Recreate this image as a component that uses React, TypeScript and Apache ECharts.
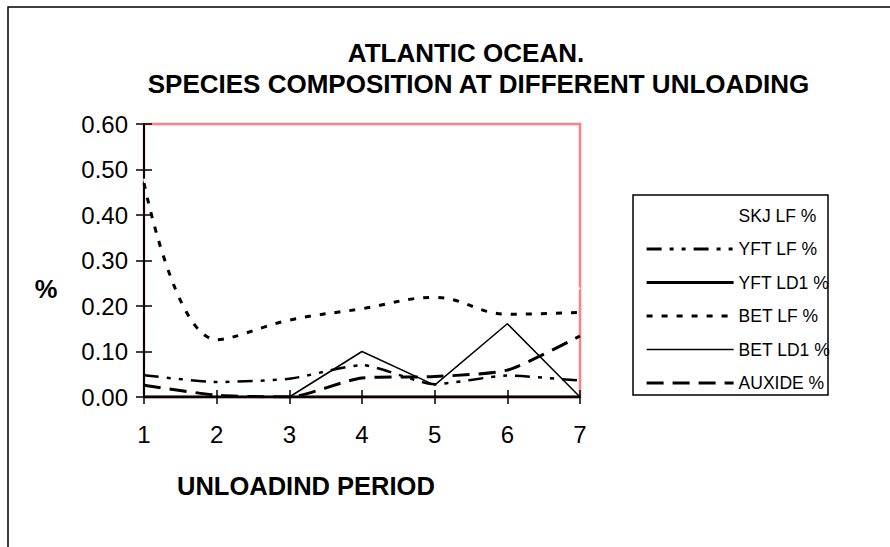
import React, { useEffect, useRef } from 'react';
import * as echarts from 'echarts';

const FONT = "'Liberation Sans', Arial, Helvetica, sans-serif";

const periods = ['1', '2', '3', '4', '5', '6', '7'];
const seriesNames = ['SKJ LF %', 'YFT LF %', 'YFT LD1 %', 'BET LF %', 'BET LD1 %', 'AUXIDE %'];
const skjLF = [0.48, 0.125, 0.16, 0.2, 0.225, 0.18, 0.24];
const yftLF = [0.048, 0.033, 0.04, 0.07, 0.028, 0.047, 0.036];
const yftLD1 = [0, 0, 0, 0, 0, 0, 0];
const betLF = [0.47, 0.126, 0.169, 0.194, 0.219, 0.182, 0.186];
const betLD1 = [0, 0, 0, 0.1, 0.026, 0.161, 0];
const auxide = [0.026, 0.004, 0, 0.042, 0.045, 0.059, 0.134];
const titleLines = ['ATLANTIC OCEAN.', 'SPECIES COMPOSITION AT DIFFERENT UNLOADING'];
const xAxisTitle = 'UNLOADIND PERIOD';
const yAxisTitle = '%';

export default function App() {
  const ref = useRef<HTMLDivElement>(null);

  useEffect(() => {
    const chart = echarts.init(ref.current!, null, { renderer: 'svg' });

    const titleStyle = {
      fontSize: 26,
      fontWeight: 'bold' as const,
      fontFamily: FONT,
      color: '#000',
      lineHeight: 26,
    };

    const styles: any[] = [
      { color: '#fff', width: 2, type: 'solid', smooth: 0.4 },
      { color: '#000', width: 2.5, type: [15, 8, 4, 8, 4, 8], smooth: 0.2 },
      { color: '#000', width: 3, type: 'solid', smooth: false },
      { color: '#000', width: 3, type: [6, 9], smooth: 0.4 },
      { color: '#000', width: 1.5, type: 'solid', smooth: false },
      { color: '#000', width: 3, type: [17, 9], smooth: 0.2 },
    ];
    const legendWidths = [2, 3, 3, 3, 1.5, 3.2];
    const values = [skjLF, yftLF, yftLD1, betLF, betLD1, auxide];

    const option: any = {
      animation: false,
      backgroundColor: '#fff',
      title: [
        { text: titleLines[0], left: 466, top: 40, textAlign: 'center', padding: 0, textStyle: titleStyle },
        { text: titleLines[1], left: 478.5, top: 71, textAlign: 'center', padding: 0, textStyle: titleStyle },
      ],
      grid: {
        left: 144,
        right: 310,
        top: 124,
        bottom: 150,
        show: true,
        borderColor: '#ff8080',
        borderWidth: 2.5,
        backgroundColor: '#fff',
        containLabel: false,
      },
      legend: {
        orient: 'vertical',
        left: 645,
        top: 206.5,
        padding: 0,
        itemWidth: 87,
        itemHeight: 18,
        itemGap: 15.5,
        selectedMode: false,
        data: seriesNames.map((name, i) => ({
          name,
          lineStyle: { width: legendWidths[i], color: styles[i].color, type: styles[i].type },
        })),
        itemStyle: { opacity: 0, borderWidth: 0 },
        textStyle: { fontSize: 17.5, fontFamily: FONT, color: '#000', lineHeight: 18 },
      },
      xAxis: [
        {
          type: 'category',
          data: periods,
          boundaryGap: false,
          axisLine: { show: true, lineStyle: { color: '#000', width: 2 } },
          axisTick: { show: true, alignWithLabel: true, length: 7, lineStyle: { color: '#000', width: 1.5 } },
          axisLabel: { fontSize: 24, fontFamily: FONT, color: '#000', margin: 25 },
          splitLine: { show: false },
        },
        {
          type: 'category',
          data: periods,
          boundaryGap: false,
          position: 'bottom',
          axisLine: { show: false },
          axisTick: { show: true, inside: true, length: 7, lineStyle: { color: '#000', width: 1.5 } },
          axisLabel: { show: false },
          splitLine: { show: false },
        },
      ],
      yAxis: [
        {
          type: 'value',
          min: 0,
          max: 0.6,
          interval: 0.1,
          axisLine: { show: true, lineStyle: { color: '#000', width: 2 } },
          axisTick: { show: true, length: 8, lineStyle: { color: '#000', width: 1.5 } },
          axisLabel: {
            fontSize: 24,
            fontFamily: FONT,
            color: '#000',
            margin: 16,
            formatter: (v: number) => v.toFixed(2),
          },
          splitLine: { show: false },
        },
        {
          type: 'value',
          min: 0,
          max: 0.6,
          interval: 0.1,
          position: 'left',
          axisLine: { show: false },
          axisTick: { show: true, inside: true, length: 8, lineStyle: { color: '#000', width: 1.5 } },
          axisLabel: { show: false },
          splitLine: { show: false },
        },
      ],
      series: seriesNames.map((name, i) => ({
        name,
        type: 'line',
        data: values[i],
        symbol: 'none',
        smooth: styles[i].smooth,
        lineStyle: { color: styles[i].color, width: styles[i].width, type: styles[i].type },
        itemStyle: { color: styles[i].color },
      })),
      graphic: [
        {
          type: 'rect',
          silent: true,
          shape: { x: 8, y: 7, width: 1000, height: 1000 },
          style: { fill: 'none', stroke: '#000', lineWidth: 1.5 },
        },
        {
          type: 'rect',
          silent: true,
          shape: { x: 633, y: 195, width: 195, height: 200 },
          style: { fill: 'none', stroke: '#000', lineWidth: 1.5 },
        },
        {
          type: 'text',
          silent: true,
          x: 177,
          y: 486,
          style: {
            text: xAxisTitle,
            fontSize: 25.5,
            fontWeight: 'bold',
            fontFamily: FONT,
            fill: '#000',
            align: 'left',
            verticalAlign: 'middle',
          },
        },
        {
          type: 'text',
          silent: true,
          x: 46,
          y: 289,
          style: {
            text: yAxisTitle,
            fontSize: 25.5,
            fontWeight: 'bold',
            fontFamily: FONT,
            fill: '#000',
            align: 'center',
            verticalAlign: 'middle',
          },
        },
      ],
    };

    chart.setOption(option);
    return () => chart.dispose();
  }, []);

  return (
    <div
      ref={ref}
      style={{ position: 'fixed', left: 0, top: 0, width: 890, height: 547, background: '#fff' }}
    />
  );
}
